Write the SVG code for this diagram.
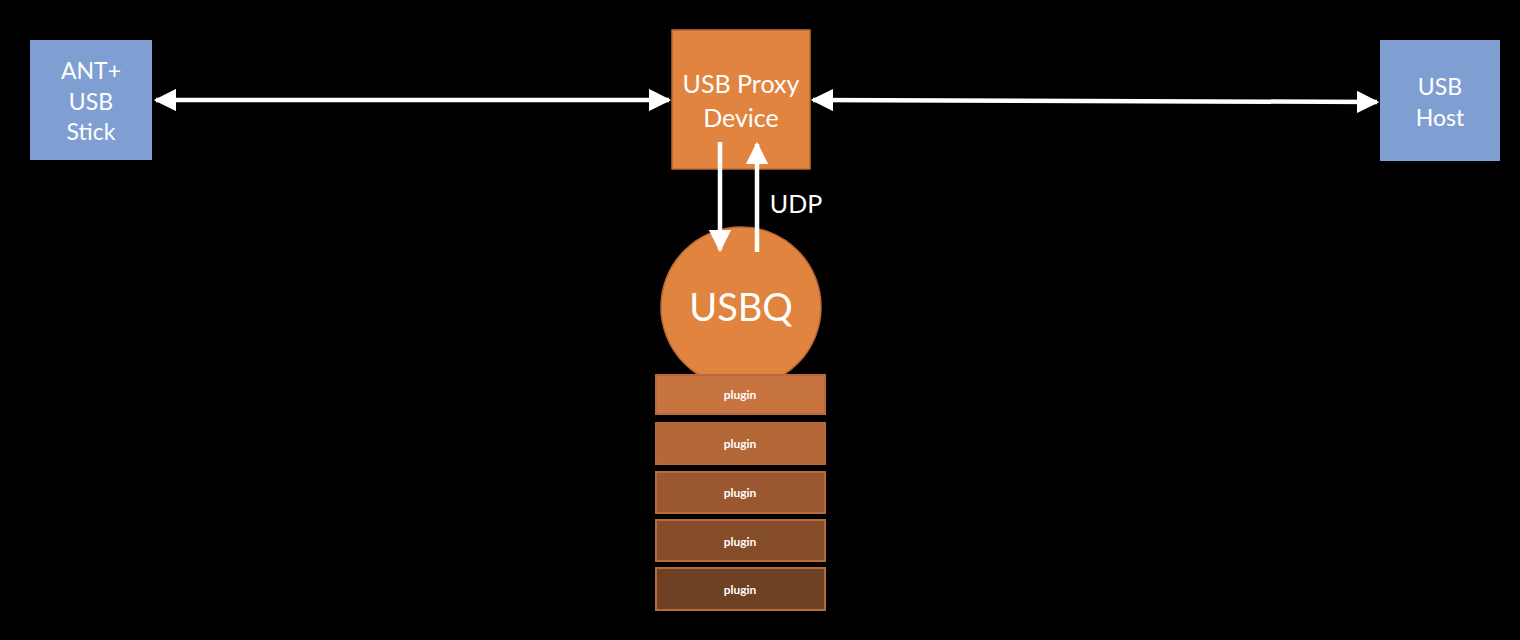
<svg xmlns="http://www.w3.org/2000/svg" width="1520" height="640" viewBox="0 0 1520 640">
<style>
.bg{fill:#000}
.blue{fill:#7f9fd3}
.orange{fill:#e0843f;stroke:#b86a35;stroke-width:1.5}
.plug{stroke:#b86a3a;stroke-width:2}
text{font-family:Lato,"Open Sans","Liberation Sans",sans-serif;fill:#fff;text-anchor:middle;dominant-baseline:central}
.t22{font-size:23px}
.t24{font-size:25px}
.t40{font-size:38px}
.t11{font-size:12px;font-weight:bold}
.conn{stroke:#fff;stroke-width:4.5;fill:none}
</style>
<defs>
<marker id="ah" markerWidth="5" markerHeight="5" refX="4.5" refY="2.5" orient="auto-start-reverse" markerUnits="strokeWidth" viewBox="0 0 5 5">
<path d="M0,0 L5,2.5 L0,5 Z" fill="#fff"/>
</marker>
</defs>
<rect class="bg" x="0" y="0" width="1520" height="640"/>
<g id="ant">
<rect class="blue" x="30" y="40" width="122" height="120"/>
<text class="t22" x="91" y="70">ANT+</text>
<text class="t22" x="91" y="101">USB</text>
<text class="t22" x="91" y="131">Stick</text>
</g>
<g id="host">
<rect class="blue" x="1380" y="40" width="120" height="121"/>
<text class="t22" x="1440" y="86">USB</text>
<text class="t22" x="1440" y="117">Host</text>
</g>
<g id="proxy">
<rect class="orange" x="672" y="30" width="138" height="139"/>
<text class="t24" x="741" y="83">USB Proxy</text>
<text class="t24" x="741" y="117">Device</text>
</g>
<g id="usbq">
<circle class="orange" cx="741" cy="307" r="80"/>
<text class="t40" x="741" y="306">USBQ</text>
</g>
<g id="plugin1"><rect class="plug" fill="#c87440" x="656" y="375" width="169" height="39"/><text class="t11" x="740" y="394">plugin</text></g>
<g id="plugin2"><rect class="plug" fill="#b36636" x="656" y="423" width="169" height="41"/><text class="t11" x="740" y="443">plugin</text></g>
<g id="plugin3"><rect class="plug" fill="#9b5830" x="656" y="472" width="169" height="41"/><text class="t11" x="740" y="492">plugin</text></g>
<g id="plugin4"><rect class="plug" fill="#854c29" x="656" y="520" width="169" height="41"/><text class="t11" x="740" y="541">plugin</text></g>
<g id="plugin5"><rect class="plug" fill="#6e4124" x="656" y="568" width="169" height="42"/><text class="t11" x="740" y="589">plugin</text></g>
<g id="connectors">
<line class="conn" x1="156" y1="100" x2="669" y2="100" marker-start="url(#ah)" marker-end="url(#ah)"/>
<line class="conn" x1="813" y1="100" x2="1377" y2="102" marker-start="url(#ah)" marker-end="url(#ah)"/>
<line class="conn" x1="720" y1="142" x2="720" y2="250" marker-end="url(#ah)"/>
<line class="conn" x1="757" y1="252" x2="757" y2="144" marker-end="url(#ah)"/>
<text class="t24" x="796" y="203">UDP</text>
</g>
</svg>
